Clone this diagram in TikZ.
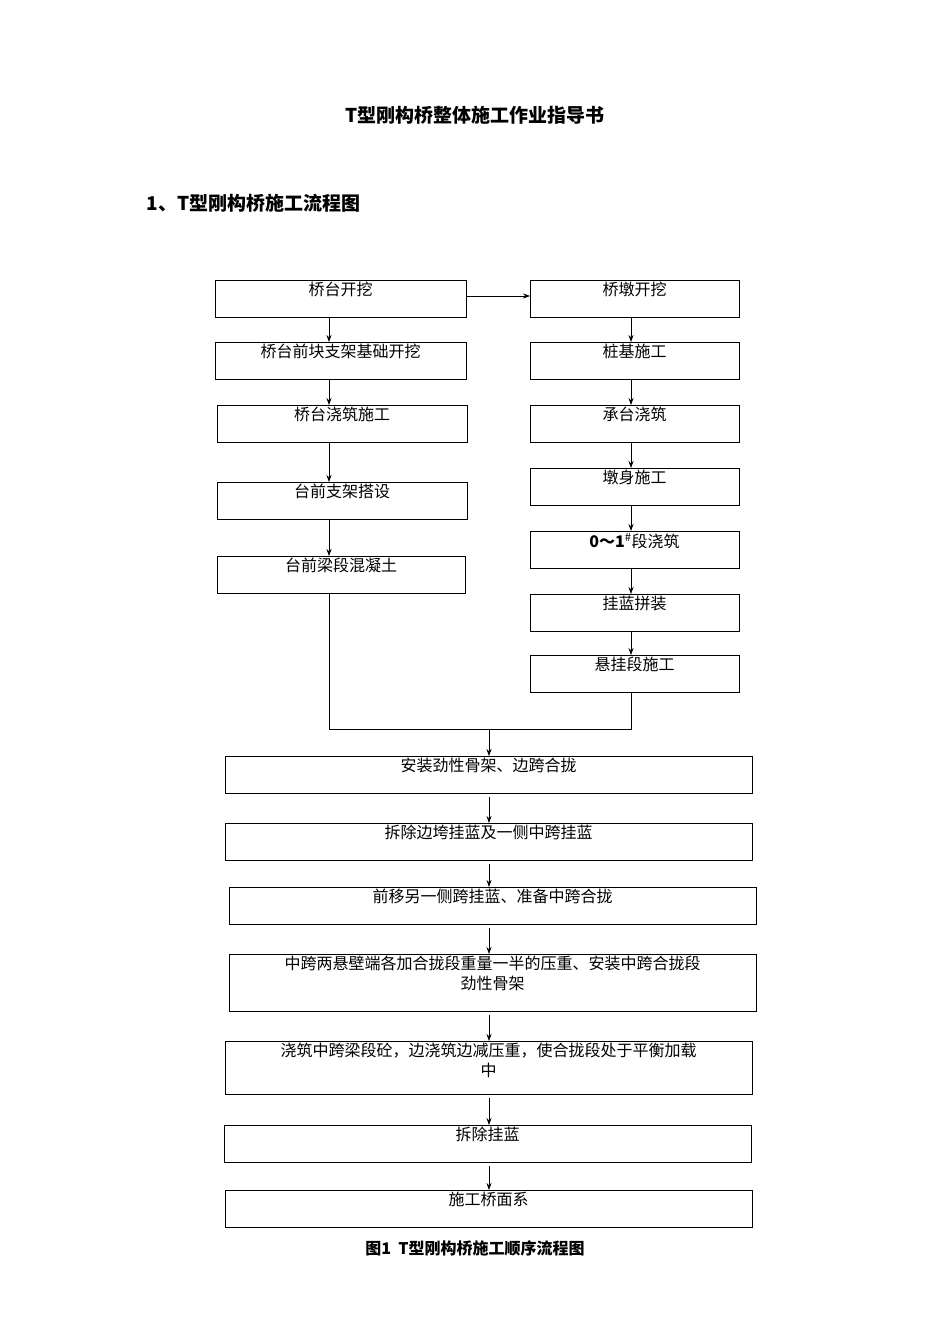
\documentclass[tikz,border=0pt]{standalone}
\usepackage{fontspec}
\setmainfont{Liberation Serif}
\newfontfamily\cjk{Noto Sans CJK SC}
\usetikzlibrary{arrows.meta}
\newcommand\bb[6]{\node[bx,minimum width={#3-#2},minimum height={#5-#4}] (#1) at (#2,#4) {};
 \node[txt,anchor=north] (#1t) at ([yshift=-1pt]#1.north) {#6};}
\begin{document}
\begin{tikzpicture}[x=1pt,y=-1pt,
  bx/.style={draw,line width=0.8pt,inner sep=0pt,outer sep=0pt,anchor=north west},
  txt/.style={font=\cjk\fontsize{16}{20}\selectfont,align=center,inner sep=1pt},
  ar/.style={-{Stealth[length=7pt,width=5pt]},line width=0.7pt}]
\useasboundingbox (0,0) rectangle (950,1344);
\coordinate (L) at (329,0);
\coordinate (R) at (631,0);
\coordinate (C) at (489,0);
\coordinate (Y) at (0,296);
\node[font=\cjk\bfseries\fontsize{19}{22}\selectfont] (title) at (475,115) {T型刚构桥整体施工作业指导书};
\node[font=\cjk\bfseries\fontsize{19}{22}\selectfont,anchor=west] (head) at (143,203) {1、T型刚构桥施工流程图};
\bb{a1}{215}{466}{280}{317}{桥台开挖}
\bb{a2}{215}{466}{342}{379}{桥台前块支架基础开挖}
\bb{a3}{217}{467}{405}{442}{桥台浇筑施工}
\bb{a4}{217}{467}{482}{519}{台前支架搭设}
\bb{a5}{217}{465}{556}{593}{台前梁段混凝土}
\bb{b1}{530}{739}{280}{317}{桥墩开挖}
\bb{b2}{530}{739}{342}{379}{桩基施工}
\bb{b3}{530}{739}{405}{442}{承台浇筑}
\bb{b4}{530}{739}{468}{505}{墩身施工}
\bb{b5}{530}{739}{531}{568}{\textbf{0～1}\textsuperscript{\#}段浇筑}
\bb{b6}{530}{739}{594}{631}{挂蓝拼装}
\bb{b7}{530}{739}{655}{692}{悬挂段施工}
\bb{c1}{225}{752}{756}{793}{安装劲性骨架、边跨合拢}
\bb{c2}{225}{752}{823}{860}{拆除边垮挂蓝及一侧中跨挂蓝}
\bb{c3}{229}{756}{887}{924}{前移另一侧跨挂蓝、准备中跨合拢}
\bb{c4}{229}{756}{954}{1011}{中跨两悬壁端各加合拢段重量一半的压重、安装中跨合拢段\\劲性骨架}
\bb{c5}{225}{752}{1041}{1094}{浇筑中跨梁段砼，边浇筑边减压重，使合拢段处于平衡加载\\中}
\bb{c6}{224}{751}{1125}{1162}{拆除挂蓝}
\bb{c7}{225}{752}{1190}{1227}{施工桥面系}
\node[font=\cjk\bfseries\fontsize{16}{20}\selectfont] (cap) at (475,1248) {图1\ \ T型刚构桥施工顺序流程图};
\draw[ar] (a1.east |- Y) -- (b1.west |- Y);
\foreach \p/\q in {a1/a2,a2/a3,a3/a4,a4/a5}{\draw[ar] (L |- \p.south) -- (L |- \q.north);}
\foreach \p/\q in {b1/b2,b2/b3,b3/b4,b4/b5,b5/b6,b6/b7}{\draw[ar] (R |- \p.south) -- (R |- \q.north);}
\coordinate (m) at (489,729);
\draw[line width=0.7pt] (L |- a5.south) -- (L |- m) -- (R |- m) -- (R |- b7.south);
\draw[ar] (m) -- (C |- c1.north);
\foreach \p/\q in {c1/c2,c2/c3,c3/c4,c4/c5,c5/c6,c6/c7}{\draw[ar] (C |- \p.south) ++(0,4) -- (C |- \q.north);}
\end{tikzpicture}
\end{document}
